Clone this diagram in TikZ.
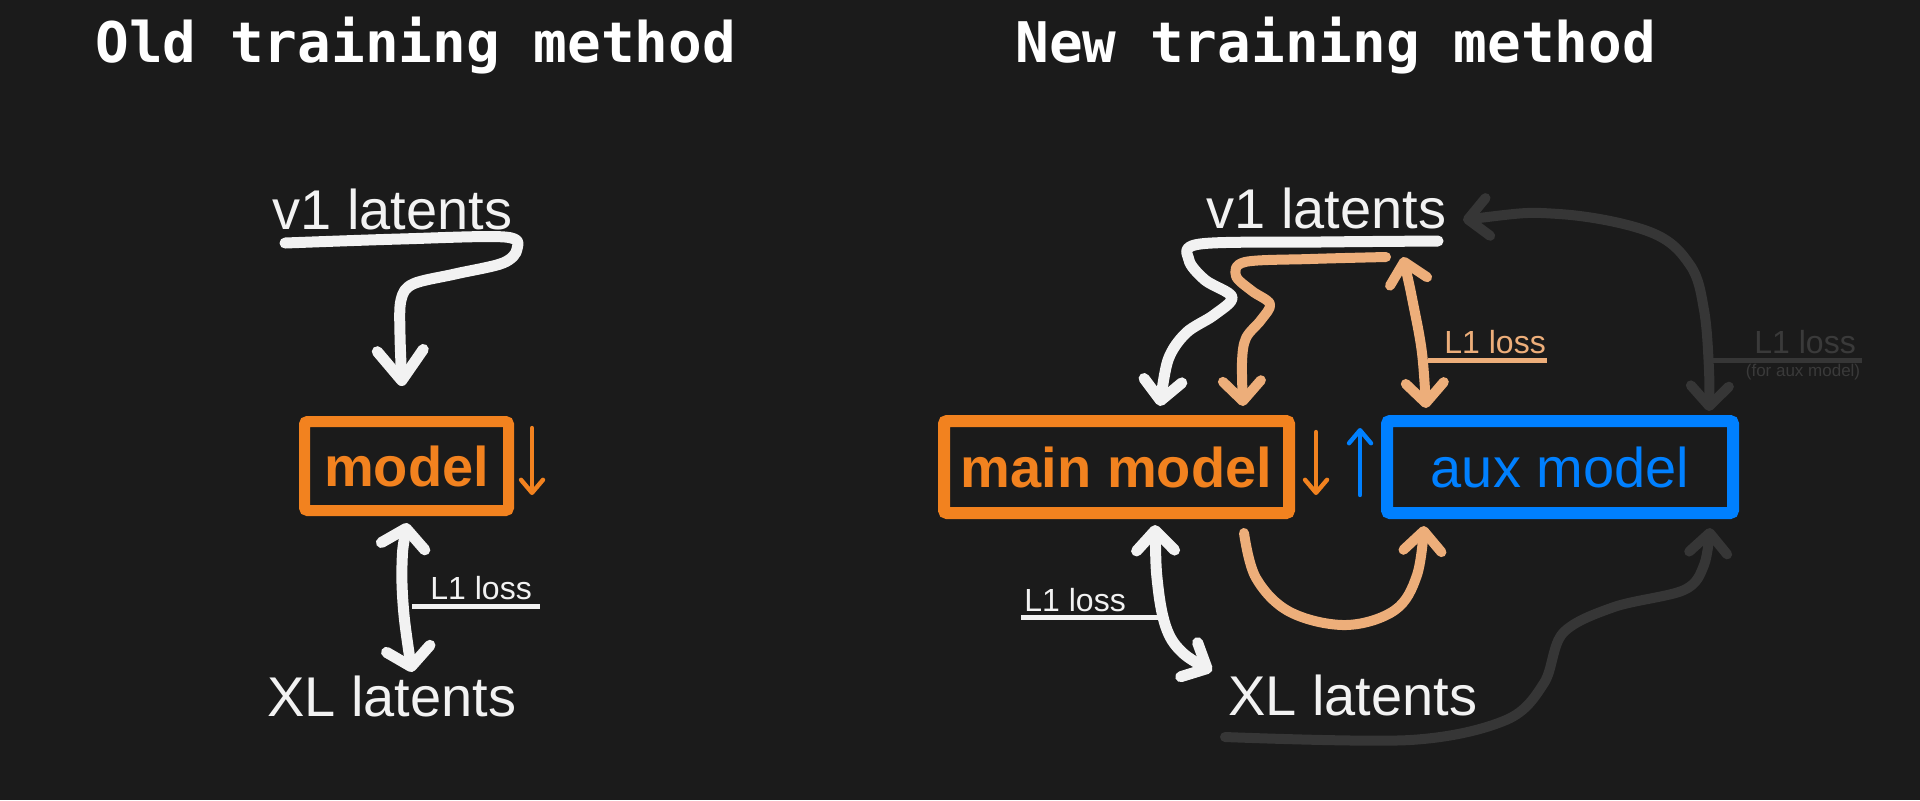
\documentclass[tikz,border=0pt]{standalone}
\usepackage{fontspec}
\setmainfont{Liberation Sans}
\newfontfamily\titlefont{DejaVu Sans Mono}
\usetikzlibrary{arrows.meta}
\definecolor{bg}{HTML}{1B1B1B}
\definecolor{wht}{HTML}{F2F2F2}
\definecolor{org}{HTML}{F2821F}
\definecolor{peach}{HTML}{EDAE7A}
\definecolor{blu}{HTML}{0080FF}
\definecolor{gry}{HTML}{363636}
\definecolor{gtxt}{HTML}{3A3A3A}
\tikzset{
  bigV/.tip={Straight Barb[length=15pt,width=23pt,round]},
  dV/.tip={Straight Barb[length=9pt,width=22pt,round]},
  midV/.tip={Straight Barb[length=10pt,width=19pt,round]},
  smV/.tip={Straight Barb[length=6.5pt,width=11pt,round]},
}
\begin{document}
\begin{tikzpicture}[x=0.5pt,y=-0.5pt,
  title/.style={font=\titlefont\bfseries\fontsize{28}{30}\selectfont, text=white, anchor=base west, inner sep=0},
  lbl/.style={font=\fontsize{28}{30}\selectfont, text=wht, anchor=base west, inner sep=0},
  small/.style={font=\fontsize{16}{18}\selectfont, anchor=base west, inner sep=0},
  box/.style={draw, rounded corners=1.5pt, inner sep=0, font=\fontsize{28}{30}\selectfont},
  stroke/.style={line width=5.5pt, line cap=round, line join=round},
  uline/.style={line width=2.5pt},
  thin/.style={line width=2.2pt, line cap=round},
]
\fill[bg] (0,0) rectangle (1920,800);
\useasboundingbox (0,0) rectangle (1920,800);

% titles
\node[title] (t1) at (95,62) {Old training method};
\node[title] (t2) at (1015,62) {New training method};

% ---------------- left panel ----------------
\node[lbl] (v1L) at (272,229) {v1 latents};
\node[box, draw=org, line width=5.5pt, text=org, font=\fontsize{28}{30}\selectfont\bfseries,
      minimum width=102pt, minimum height=44.5pt] (modelL) at (406.5,466) {model};
\node[lbl] (xlL) at (267,716) {XL latents};
\node[small, text=wht] (lossL) at (430,599) {L1 loss};

\coordinate (v1Ls) at (285,243);
\coordinate (mLin) at (402,386);
\draw[stroke, wht, -bigV] plot[smooth, tension=0.55] coordinates
  {(v1Ls) (400,239) (505,237) (517,249) (503,263) (455,274) (413,284) (401,300) (400,335) (mLin)};

\coordinate (mLb) at (407,523);
\coordinate (xlLt) at (412,672);
\draw[stroke, wht, dV-dV] plot[smooth, tension=0.6] coordinates {(mLb) (402,565) (404,615) (xlLt)};
\coordinate (ulL1) at (412,606);
\coordinate (ulL2) at (540,606);
\draw[uline, wht] (ulL1) -- (ulL2);

\coordinate (oaL1) at (532,428);
\coordinate (oaL2) at (532,495);
\draw[thin, org, -smV] (oaL1) -- (oaL2);

% ---------------- right panel ----------------
\node[lbl] (v1R) at (1206,228) {v1 latents};
\node[box, draw=org, line width=6pt, text=org, font=\fontsize{28}{30}\selectfont\bfseries,
      minimum width=172.5pt, minimum height=46pt] (mainM) at (1116.5,467) {main model};
\node[box, draw=blu, line width=6pt, text=blu,
      minimum width=173pt, minimum height=46pt] (auxM) at (1560,467) {aux model};
\node[lbl] (xlR) at (1228,715) {XL latents};
\node[small, text=peach] (lossP) at (1444,353) {L1 loss};
\node[small, text=gtxt] (lossG) at (1754,353) {L1 loss};
\node[font=\fontsize{8.5}{10}\selectfont, text=gtxt, inner sep=0] (forAux) at (1803,372) {(for aux model)};
\node[small, text=wht] (lossW) at (1024,611) {L1 loss};

% small arrows between boxes
\coordinate (oaR1) at (1316,432);
\coordinate (oaR2) at (1316,495);
\draw[thin, org, -smV] (oaR1) -- (oaR2);
\coordinate (baR1) at (1360,495);
\coordinate (baR2) at (1360,428);
\draw[thin, blu, -smV] (baR1) -- (baR2);

% white: v1 -> main model
\coordinate (v1Rw) at (1438,241);
\coordinate (mRw) at (1160,406);
\draw[stroke, wht, -midV] plot[smooth, tension=0.55] coordinates
  {(v1Rw) (1320,242) (1200,244) (1189,260) (1205,280) (1232,297) (1214,315) (1186,333) (1168,360) (mRw)};

% peach: v1 -> main model
\coordinate (v1Rp) at (1386,257);
\coordinate (mRp) at (1243,406);
\draw[stroke, peach, line width=5pt, -midV] plot[smooth, tension=0.55] coordinates
  {(v1Rp) (1310,259) (1245,262) (1236,276) (1252,291) (1270,304) (1261,320) (1246,338) (1242,362) (mRp)};

% peach: v1 <-> aux model
\coordinate (v1Rq) at (1403,257);
\coordinate (aRq) at (1426,408);
\draw[stroke, peach, line width=5pt, midV-midV] plot[smooth, tension=0.6] coordinates
  {(v1Rq) (1413,303) (1422,353) (aRq)};
\coordinate (ulP1) at (1428,360);
\coordinate (ulP2) at (1547,360);
\draw[uline, peach] (ulP1) -- (ulP2);

% gray: aux model <-> v1
\coordinate (v1Rg) at (1463,220);
\coordinate (aRg) at (1709,411);
\draw[stroke, gry, line width=5pt, midV-midV] plot[smooth, tension=0.6] coordinates
  {(v1Rg) (1559,214) (1650,232) (1690,265) (1704,310) (1709,370) (aRg)};
\coordinate (ulG1) at (1711,360);
\coordinate (ulG2) at (1862,360);
\draw[uline, gry] (ulG1) -- (ulG2);

% white: main model <-> XL latents
\coordinate (mRb) at (1155,525);
\coordinate (xlRt) at (1212,671);
\draw[stroke, wht, midV-midV] plot[smooth, tension=0.6] coordinates
  {(mRb) (1158,587) (1167,630) (1184,654) (xlRt)};
\coordinate (ulW1) at (1021,617);
\coordinate (ulW2) at (1158,617);
\draw[uline, wht] (ulW1) -- (ulW2);

% peach: main model -> aux model
\coordinate (mRc) at (1244,533);
\coordinate (aRc) at (1424,526);
\draw[stroke, peach, line width=5pt, -midV] plot[smooth, tension=0.6] coordinates
  {(mRc) (1256,578) (1290,612) (1346,625) (1395,610) (1417,575) (aRc)};

% gray: XL latents -> aux model
\coordinate (xlRg) at (1225,737);
\coordinate (aRd) at (1710,528);
\draw[stroke, gry, line width=5pt, -midV] plot[smooth, tension=0.55] coordinates
  {(xlRg) (1410,740) (1506,720) (1544,683) (1563,633) (1614,607) (1684,590) (1704,565) (aRd)};
\end{tikzpicture}
\end{document}
